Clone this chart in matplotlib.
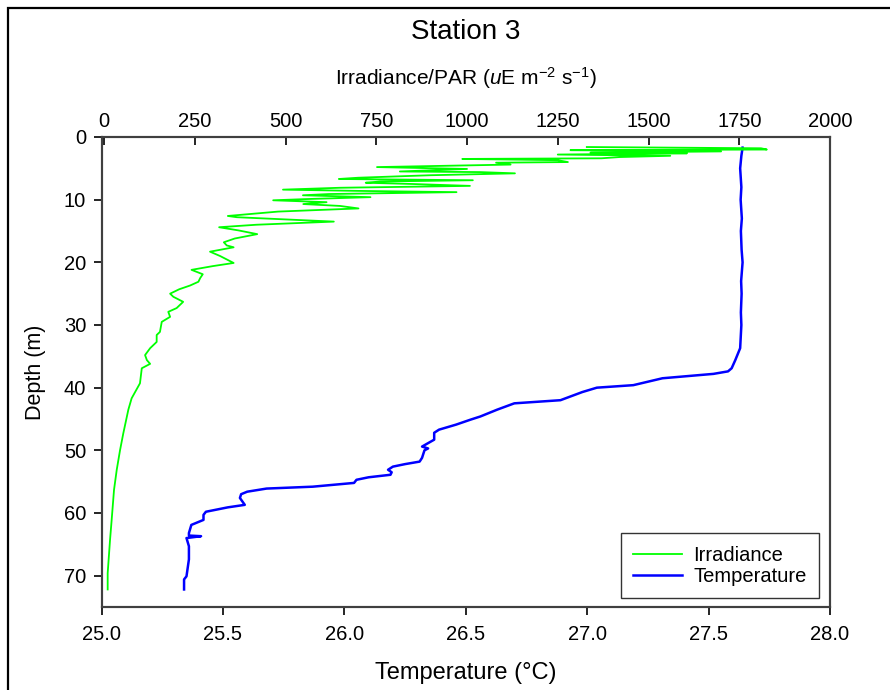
import matplotlib
matplotlib.use('Agg')
import matplotlib.pyplot as plt
from matplotlib.patches import Rectangle
from matplotlib.ticker import FormatStrFormatter

plt.rcParams['font.family'] = ['Liberation Sans', 'DejaVu Sans']
plt.rcParams['mathtext.fontset'] = 'custom'
plt.rcParams['mathtext.rm'] = 'Liberation Sans'
plt.rcParams['mathtext.it'] = 'Liberation Sans:italic'

# ---- data ----
irr_depth = [1.6, 1.8, 2.0, 2.1, 2.3, 2.5, 2.6, 2.8, 3.0, 3.2, 3.4, 3.5, 3.7, 4.0, 4.1, 4.4,
             4.8, 5.1, 5.5, 5.6, 5.8, 6.1, 6.5, 6.7, 6.9, 7.1, 7.3, 7.5, 7.8, 8.1, 8.4, 8.6,
             8.8, 9.1, 9.3, 9.6, 9.9, 10.1, 10.4, 10.7, 11.0, 11.4, 11.9, 12.6, 12.8, 13.5,
             14.0, 14.4, 14.9, 15.5, 16.2, 16.8, 17.3, 17.6, 18.3, 19.0, 20.1, 20.6, 21.2,
             21.9, 22.5, 23.1, 23.7, 24.3, 25.0, 25.5, 26.3, 27.3, 27.9, 28.7, 29.5, 31.1,
             31.6, 32.7, 33.7, 34.8, 35.6, 36.2, 36.9, 39.3, 41.7, 43.5, 47.3, 50.0, 53.1,
             56.3, 61.1, 64.3, 69.6, 72.2]
irr_value = [1330, 1810, 1826, 1285, 1700, 1340, 1606, 1250, 1560, 1420, 1370, 987, 1250, 1278,
             1080, 1120, 752, 1000, 815, 1036, 1132, 900, 700, 647, 1016, 760, 721, 850, 1008,
             650, 493, 700, 971, 620, 548, 734, 560, 466, 613, 549, 650, 701, 480, 341, 366,
             633, 420, 317, 370, 422, 360, 330, 338, 357, 292, 320, 357, 300, 241, 272, 265,
             260, 237, 207, 182, 191, 218, 200, 177, 182, 159, 154, 145, 145, 127, 113, 118,
             127, 104, 99, 76, 67, 53, 44, 35, 27.5, 21, 16.5, 10, 10]

temp_depth = [1.7, 3.0, 5.0, 8.0, 10.0, 13.0, 15.0, 18.0, 20.0, 23.0, 25.0, 28.0, 30.0, 33.7,
              35.6, 36.9, 37.4, 37.8, 38.5, 39.6, 40.0, 40.7, 42.0, 42.5, 43.5, 44.6, 45.1,
              45.9, 46.7, 47.2, 48.3, 49.4, 49.7, 50.0, 51.2, 51.8, 52.2, 52.6, 53.1, 53.5,
              53.9, 54.3, 54.7, 55.2, 55.8, 56.1, 56.6, 57.0, 57.6, 58.7, 59.1, 59.8, 60.3,
              61.1, 61.9, 63.2, 63.6, 63.7, 64.0, 65.3, 67.4, 70.1, 70.6, 72.2]
temp_value = [27.64, 27.635, 27.63, 27.635, 27.632, 27.637, 27.633, 27.636, 27.64, 27.634,
              27.636, 27.633, 27.635, 27.63, 27.61, 27.595, 27.58, 27.52, 27.31, 27.19, 27.04,
              26.98, 26.89, 26.70, 26.63, 26.56, 26.52, 26.46, 26.39, 26.37, 26.37, 26.32,
              26.345, 26.33, 26.32, 26.31, 26.25, 26.20, 26.18, 26.195, 26.19, 26.10, 26.05,
              26.04, 25.87, 25.68, 25.60, 25.575, 25.57, 25.59, 25.52, 25.43, 25.42, 25.42,
              25.37, 25.36, 25.36, 25.41, 25.35, 25.36, 25.36, 25.35, 25.34, 25.34]

temp_ticks = [25.0, 25.5, 26.0, 26.5, 27.0, 27.5, 28.0]
irr_ticks = [0, 250, 500, 750, 1000, 1250, 1500, 1750, 2000]
depth_ticks = [0, 10, 20, 30, 40, 50, 60, 70]

# ---- figure ----
fig = plt.figure(figsize=(8.9, 6.9), dpi=100)
W, H = 890.0, 690.0
ax = fig.add_axes([101.5 / W, 1 - 607 / H, 728.5 / W, 470 / H])
ax2 = ax.twiny()

spine_col = '#404040'
for a in (ax, ax2):
    for s in a.spines.values():
        s.set_color(spine_col)
        s.set_linewidth(1.5)

lt, = ax.plot(temp_value, temp_depth, color='#0000ff', lw=1.8, label='Temperature')
li, = ax2.plot(irr_value, irr_depth, color='#00ff00', lw=1.3, label='Irradiance')

ax.set_xlim(25.0, 28.0)
ax.set_ylim(75, 0)
ax2.set_xlim(-7, 2000)

ax.set_xticks(temp_ticks)
ax.xaxis.set_major_formatter(FormatStrFormatter('%.1f'))
ax.set_yticks(depth_ticks)
ax2.set_xticks(irr_ticks)

ax.tick_params(axis='x', direction='out', length=6, width=1.2, labelsize=14.5, pad=7, color='black')
ax.tick_params(axis='y', direction='out', length=6, width=1.2, labelsize=14.5, pad=5, color='black')
ax2.tick_params(axis='x', direction='in', length=6, width=1.2, labelsize=14.5, pad=4, color='black')

ax.set_xlabel('Temperature (°C)', fontsize=17, labelpad=13)
ax.set_ylabel('Depth (m)', fontsize=15.5, labelpad=13)
ax2.set_xlabel(r'Irradiance/PAR ($\mathit{u}$E m$^{-2}$ s$^{-1}$)', fontsize=15, labelpad=20)

fig.text(0.5 * (101.5 + 830) / W, 1 - 32 / H, 'Station 3', fontsize=20,
         ha='center', va='center')

leg = ax2.legend(handles=[li, lt], loc='lower right', bbox_to_anchor=(0.985, 0.019),
                 borderaxespad=0, fontsize=14.5, frameon=True, fancybox=False,
                 handlelength=2.4, handletextpad=0.6, labelspacing=0.12,
                 borderpad=0.6)
leg.get_frame().set_edgecolor('black')
leg.get_frame().set_linewidth(1.0)

# outer frame around the figure (extends beyond right/bottom edges)
fig.patches.append(Rectangle((8 / W, -0.2), 1.5, 1 - 8 / H + 0.2, transform=fig.transFigure,
                             fill=False, edgecolor='black', linewidth=1.6))

fig.savefig('out.png', dpi=100)
